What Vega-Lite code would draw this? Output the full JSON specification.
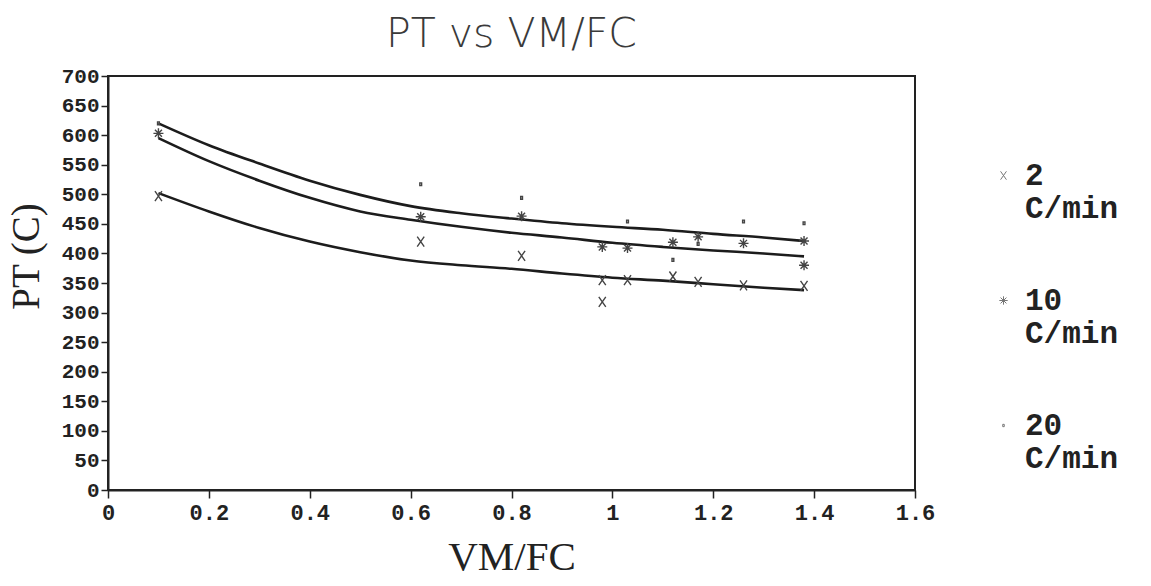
{
  "$schema": "https://vega.github.io/schema/vega-lite/v6.json",
  "width": 807,
  "height": 414,
  "autosize": {"type": "none"},
  "padding": {"left": 108, "top": 76, "right": 236, "bottom": 96},
  "background": "white",
  "title": {"text": "PT vs VM/FC", "font": "DejaVu Sans", "fontSize": 41, "fontWeight": 200, "color": "#3a3a3a", "offset": 9, "anchor": "middle"},
  "config": {
    "view": {"stroke": "#222222", "strokeWidth": 2},
    "style": {"guide-label": {"lineHeight": 33}},
    "axis": {"grid": false, "domainColor": "#222222", "domainWidth": 2, "tickColor": "#222222", "tickWidth": 1.5, "labelFont": "Liberation Mono", "labelFontWeight": "bold", "labelColor": "#222222", "titleFont": "Liberation Serif", "titleFontWeight": "normal", "titleColor": "#222222"}
  },
  "datasets": {
    "curves": [
      {"vmfc": 0.1, "pt": 620, "rate": "20 C/min"}, {"vmfc": 0.2, "pt": 583, "rate": "20 C/min"}, {"vmfc": 0.3, "pt": 552, "rate": "20 C/min"}, {"vmfc": 0.4, "pt": 523, "rate": "20 C/min"}, {"vmfc": 0.5, "pt": 499, "rate": "20 C/min"}, {"vmfc": 0.6, "pt": 480, "rate": "20 C/min"}, {"vmfc": 0.7, "pt": 468, "rate": "20 C/min"}, {"vmfc": 0.8, "pt": 459, "rate": "20 C/min"}, {"vmfc": 0.9, "pt": 451, "rate": "20 C/min"}, {"vmfc": 1.0, "pt": 445, "rate": "20 C/min"}, {"vmfc": 1.1, "pt": 440, "rate": "20 C/min"}, {"vmfc": 1.2, "pt": 433, "rate": "20 C/min"}, {"vmfc": 1.3, "pt": 427, "rate": "20 C/min"}, {"vmfc": 1.38, "pt": 421, "rate": "20 C/min"},
      {"vmfc": 0.1, "pt": 595, "rate": "10 C/min"}, {"vmfc": 0.2, "pt": 556, "rate": "10 C/min"}, {"vmfc": 0.3, "pt": 523, "rate": "10 C/min"}, {"vmfc": 0.4, "pt": 494, "rate": "10 C/min"}, {"vmfc": 0.5, "pt": 471, "rate": "10 C/min"}, {"vmfc": 0.6, "pt": 457, "rate": "10 C/min"}, {"vmfc": 0.7, "pt": 445, "rate": "10 C/min"}, {"vmfc": 0.8, "pt": 435, "rate": "10 C/min"}, {"vmfc": 0.9, "pt": 427, "rate": "10 C/min"}, {"vmfc": 1.0, "pt": 418, "rate": "10 C/min"}, {"vmfc": 1.1, "pt": 411, "rate": "10 C/min"}, {"vmfc": 1.2, "pt": 405, "rate": "10 C/min"}, {"vmfc": 1.3, "pt": 400, "rate": "10 C/min"}, {"vmfc": 1.38, "pt": 395, "rate": "10 C/min"},
      {"vmfc": 0.1, "pt": 502, "rate": "2 C/min"}, {"vmfc": 0.2, "pt": 471, "rate": "2 C/min"}, {"vmfc": 0.3, "pt": 443, "rate": "2 C/min"}, {"vmfc": 0.4, "pt": 420, "rate": "2 C/min"}, {"vmfc": 0.5, "pt": 402, "rate": "2 C/min"}, {"vmfc": 0.6, "pt": 388, "rate": "2 C/min"}, {"vmfc": 0.7, "pt": 380, "rate": "2 C/min"}, {"vmfc": 0.8, "pt": 374, "rate": "2 C/min"}, {"vmfc": 0.9, "pt": 366, "rate": "2 C/min"}, {"vmfc": 1.0, "pt": 359, "rate": "2 C/min"}, {"vmfc": 1.1, "pt": 354, "rate": "2 C/min"}, {"vmfc": 1.2, "pt": 348, "rate": "2 C/min"}, {"vmfc": 1.3, "pt": 342, "rate": "2 C/min"}, {"vmfc": 1.38, "pt": 338, "rate": "2 C/min"}
    ],
    "points": [
      {"vmfc": 0.1, "pt": 497, "rate": "2 C/min"}, {"vmfc": 0.62, "pt": 420, "rate": "2 C/min"}, {"vmfc": 0.82, "pt": 396, "rate": "2 C/min"}, {"vmfc": 0.98, "pt": 355, "rate": "2 C/min"}, {"vmfc": 0.98, "pt": 318, "rate": "2 C/min"}, {"vmfc": 1.03, "pt": 355, "rate": "2 C/min"}, {"vmfc": 1.12, "pt": 361, "rate": "2 C/min"}, {"vmfc": 1.17, "pt": 352, "rate": "2 C/min"}, {"vmfc": 1.26, "pt": 346, "rate": "2 C/min"}, {"vmfc": 1.38, "pt": 345, "rate": "2 C/min"},
      {"vmfc": 0.1, "pt": 603, "rate": "10 C/min"}, {"vmfc": 0.62, "pt": 462, "rate": "10 C/min"}, {"vmfc": 0.82, "pt": 463, "rate": "10 C/min"}, {"vmfc": 0.98, "pt": 411, "rate": "10 C/min"}, {"vmfc": 1.03, "pt": 409, "rate": "10 C/min"}, {"vmfc": 1.12, "pt": 419, "rate": "10 C/min"}, {"vmfc": 1.17, "pt": 428, "rate": "10 C/min"}, {"vmfc": 1.26, "pt": 417, "rate": "10 C/min"}, {"vmfc": 1.38, "pt": 421, "rate": "10 C/min"}, {"vmfc": 1.38, "pt": 380, "rate": "10 C/min"},
      {"vmfc": 0.1, "pt": 620, "rate": "20 C/min"}, {"vmfc": 0.62, "pt": 517, "rate": "20 C/min"}, {"vmfc": 0.82, "pt": 494, "rate": "20 C/min"}, {"vmfc": 1.03, "pt": 454, "rate": "20 C/min"}, {"vmfc": 1.12, "pt": 389, "rate": "20 C/min"}, {"vmfc": 1.17, "pt": 416, "rate": "20 C/min"}, {"vmfc": 1.26, "pt": 454, "rate": "20 C/min"}, {"vmfc": 1.38, "pt": 451, "rate": "20 C/min"}
    ]
  },
  "encoding": {
    "x": {"field": "vmfc", "type": "quantitative", "scale": {"domain": [0, 1.6], "nice": false},
      "axis": {"title": "VM/FC", "values": [0, 0.2, 0.4, 0.6, 0.8, 1, 1.2, 1.4, 1.6], "format": "~g", "labelFontSize": 22, "tickSize": 8, "labelPadding": 4, "titleFontSize": 41, "titlePadding": 14, "labelFlush": false}},
    "y": {"field": "pt", "type": "quantitative", "scale": {"domain": [0, 700], "nice": false},
      "axis": {"title": "PT (C)", "values": [0, 50, 100, 150, 200, 250, 300, 350, 400, 450, 500, 550, 600, 650, 700], "labelFontSize": 21, "tickSize": 7, "labelPadding": 2, "titleFontSize": 39, "titleAngle": 270, "titleX": -70, "titleY": 180, "titleAlign": "center", "titleBaseline": "alphabetic", "labelFlush": false}}
  },
  "layer": [
    {
      "data": {"name": "curves"},
      "mark": {"type": "line", "color": "#1c1c1c", "strokeWidth": 2.6, "interpolate": "monotone"},
      "encoding": {"detail": {"field": "rate", "type": "nominal"}}
    },
    {
      "data": {"name": "points"},
      "mark": {"type": "point", "filled": false, "color": "#444444", "strokeWidth": 1.4, "size": 100, "opacity": 1},
      "encoding": {
        "shape": {"field": "rate", "type": "nominal",
          "scale": {"domain": ["2 C/min", "10 C/min", "20 C/min"], "range": ["M-0.7,-1L0.7,1M-0.7,1L0.7,-1", "M-1,0L1,0M0,-1L0,1M-0.7,-0.7L0.7,0.7M-0.7,0.7L0.7,-0.7", "M-0.18,-0.28L0.18,-0.28L0.18,0.28L-0.18,0.28Z"]},
          "legend": {"title": null, "orient": "none", "legendX": 880, "legendY": 84, "padding": 0, "labelExpr": "split(datum.label, ' ')", "labelFont": "Liberation Mono", "labelFontWeight": "bold", "labelFontSize": 31, "labelColor": "#222222", "labelOffset": 6, "labelBaseline": "middle", "symbolStrokeColor": "#777777", "symbolSize": 70, "symbolStrokeWidth": 1, "rowPadding": 60, "labelLimit": 300}}
      }
    }
  ]
}
